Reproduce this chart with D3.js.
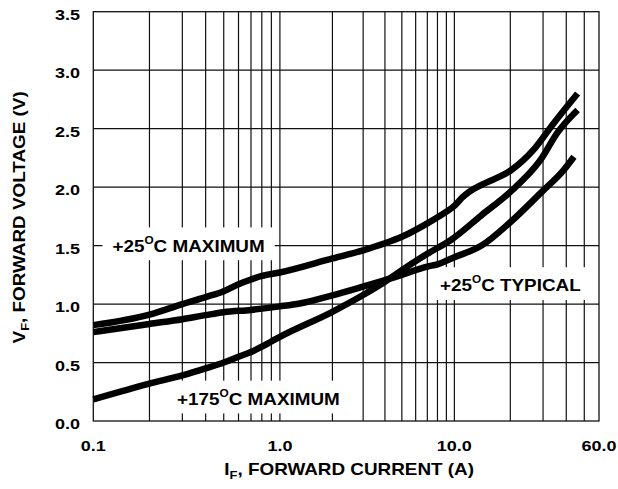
<!DOCTYPE html>
<html>
<head>
<meta charset="utf-8">
<script src="https://cdn.jsdelivr.net/npm/d3@7/dist/d3.min.js"></script>
<style>
  body { margin: 0; background: #fff; }
  text { font-family: "Liberation Sans", Arial, sans-serif; font-weight: bold; fill: #000; }
</style>
</head>
<body>
<div id="chart"></div>
<script>
// forward voltage vs forward current
const max25Current = [0.1, 0.2, 0.3, 0.4, 0.5, 0.6, 0.7, 0.8, 1, 2, 3, 4, 5, 7, 9, 10, 11, 12, 14, 20, 27, 34, 46];
const max25Voltage = [0.82, 0.91, 1.0, 1.06, 1.11, 1.17, 1.21, 1.24, 1.27, 1.39, 1.46, 1.52, 1.575, 1.69, 1.79, 1.84, 1.91, 1.96, 2.02, 2.14, 2.33, 2.54, 2.80];

const typ25Current = [0.1, 0.2, 0.3, 0.4, 0.5, 0.7, 1, 1.3, 2, 3, 4, 5, 6, 7, 8, 9, 10, 14, 20, 30, 38, 44];
const typ25Voltage = [0.76, 0.83, 0.87, 0.905, 0.93, 0.95, 0.98, 1.005, 1.075, 1.15, 1.205, 1.25, 1.29, 1.32, 1.34, 1.37, 1.40, 1.50, 1.70, 1.97, 2.13, 2.26];

const max175Current = [0.1, 0.2, 0.3, 0.4, 0.5, 0.6, 0.7, 0.8, 0.9, 1, 2, 3, 4, 5, 7, 9.6, 14, 20, 29, 36, 46];
const max175Voltage = [0.185, 0.32, 0.39, 0.45, 0.50, 0.55, 0.59, 0.635, 0.68, 0.72, 0.934, 1.077, 1.19, 1.29, 1.43, 1.55, 1.76, 1.96, 2.23, 2.47, 2.66];

// curve labels (anchor in data units)
const labelTexts = ["+25°C MAXIMUM", "+25°C TYPICAL", "+175°C MAXIMUM"];
const labelCurrent = [0.324, 20, 0.767];
const labelVoltage = [1.5, 1.16, 0.19];

// axes
const xTickValues = [0.1, 1, 10, 60];
const xGridValues = [0.2, 0.3, 0.4, 0.5, 0.6, 0.7, 0.8, 0.9, 1, 2, 3, 4, 5, 6, 7, 8, 9, 10, 20, 30, 40, 50];
const yTickValues = [0, 0.5, 1.0, 1.5, 2.0, 2.5, 3.0, 3.5];

class forwardViz {
  constructor(parentElement) {
    this.parentElement = parentElement
    this.series = [
      max25Current.map((c, i) => ({current: c, voltage: max25Voltage[i]})),
      typ25Current.map((c, i) => ({current: c, voltage: typ25Voltage[i]})),
      max175Current.map((c, i) => ({current: c, voltage: max175Voltage[i]}))
    ]
    this.labels = labelTexts.map((t, i) => ({text: t, current: labelCurrent[i], voltage: labelVoltage[i]}))
    this.initVis()
  }

  initVis() {
    let vis = this;

    vis.fullWidth = 618;
    vis.fullHeight = 489;
    vis.margin = {top: 11.7, right: 19, bottom: 68, left: 93.3};
    vis.width = vis.fullWidth - vis.margin.left - vis.margin.right;
    vis.height = vis.fullHeight - vis.margin.top - vis.margin.bottom;

    // the printed glyphs are wider than Arial, stretch them a little
    vis.stretch = 1.18;

    vis.svg = d3.select("#" + vis.parentElement).append("svg")
        .attr("width", vis.fullWidth)
        .attr("height", vis.fullHeight)

    vis.plot = vis.svg.append("g")
        .attr("transform", `translate(${vis.margin.left},${vis.margin.top})`)

    // decades in the printed grid are not quite equal, so piecewise log
    vis.xScale = d3.scaleLog()
        .domain([0.1, 1, 10, 60])
        .range([0, vis.width * 0.369, vis.width * 0.714, vis.width])

    vis.yScale = d3.scaleLinear()
        .domain([0, 3.5])
        .range([vis.height, 0])

    vis.line = d3.line()
        .curve(d3.curveMonotoneX)
        .x(d => vis.xScale(d.current))
        .y(d => vis.yScale(d.voltage))

    vis.updateVis()
  }

  updateVis() {
    let vis = this;

    // GRID _________________________
    vis.plot.append("g").selectAll("line")
        .data(xGridValues)
        .join("line")
        .attr("x1", d => vis.xScale(d)).attr("x2", d => vis.xScale(d))
        .attr("y1", 0).attr("y2", vis.height)
        .attr("stroke", "#111").attr("stroke-width", 1.2)

    vis.plot.append("g").selectAll("line")
        .data(yTickValues.slice(1, -1))
        .join("line")
        .attr("x1", 0).attr("x2", vis.width)
        .attr("y1", d => vis.yScale(d)).attr("y2", d => vis.yScale(d))
        .attr("stroke", "#111").attr("stroke-width", 1.2)

    vis.plot.append("rect")
        .attr("width", vis.width).attr("height", vis.height)
        .attr("fill", "none").attr("stroke", "#111").attr("stroke-width", 1.3)

    // TICK LABELS _________________________
    vis.svg.append("g").selectAll("g")
        .data(yTickValues)
        .join("g")
        .attr("transform", d => `translate(80,${vis.margin.top + vis.yScale(d) + 8.3}) scale(1.2,1)`)
        .append("text")
        .attr("text-anchor", "end")
        .attr("font-size", 15)
        .text(d => d3.format(".1f")(d))

    vis.svg.append("g").selectAll("g")
        .data(xTickValues)
        .join("g")
        .attr("transform", d => `translate(${vis.margin.left + vis.xScale(d)},${vis.margin.top + vis.height + 29.7}) scale(1.2,1)`)
        .append("text")
        .attr("text-anchor", "middle")
        .attr("font-size", 15)
        .text(d => d3.format(".1f")(d))

    // AXIS TITLES _________________________
    let xTitle = vis.svg.append("g")
        .attr("transform", `translate(${vis.margin.left + vis.width / 2 + 3},475) scale(${vis.stretch},1)`)
        .append("text")
        .attr("text-anchor", "middle")
        .attr("font-size", 16)
    xTitle.append("tspan").text("I")
    xTitle.append("tspan").attr("font-size", 11).attr("dy", 4).text("F")
    xTitle.append("tspan").attr("dy", -4).text(", FORWARD CURRENT (A)")

    let yTitle = vis.svg.append("g")
        .attr("transform", `translate(25,${vis.margin.top + vis.height / 2 + 1}) rotate(-90) scale(${vis.stretch},1)`)
        .append("text")
        .attr("text-anchor", "middle")
        .attr("font-size", 16)
    yTitle.append("tspan").text("V")
    yTitle.append("tspan").attr("font-size", 11).attr("dy", 4).text("F")
    yTitle.append("tspan").attr("dy", -4).text(", FORWARD VOLTAGE (V)")

    // CURVE LABELS (white box knocks out the grid) _________________________
    vis.labelGroups = vis.plot.selectAll(".curve-label")
        .data(vis.labels)
        .join("g")
        .attr("class", "curve-label")
        .attr("transform", d => `translate(${vis.xScale(d.current)},${vis.yScale(d.voltage)}) scale(${vis.stretch},1)`)

    vis.labelGroups.append("rect").attr("fill", "#fff")

    vis.labelGroups.append("text")
        .attr("text-anchor", "middle")
        .attr("font-size", 16)
        .attr("dy", 6)
        .each(function(d) {
          let parts = d.text.split("°")
          let t = d3.select(this)
          t.append("tspan").text(parts[0])
          t.append("tspan").attr("font-size", 10).attr("dy", -8).text("O")
          t.append("tspan").attr("dy", 8).text(parts[1])
        })

    vis.labelGroups.each(function() {
      let g = d3.select(this)
      let box = g.select("text").node().getBBox()
      let padX = 10 / vis.stretch
      g.select("rect")
          .attr("x", box.x - padX)
          .attr("y", box.y - 7)
          .attr("width", box.width + 2 * padX)
          .attr("height", box.height + 12)
    })

    // CURVES _________________________
    vis.plot.selectAll(".curve")
        .data(vis.series)
        .join("path")
        .attr("class", "curve")
        .attr("d", d => vis.line(d))
        .attr("fill", "none")
        .attr("stroke", "#000")
        .attr("stroke-width", 6.5)
  }
}

new forwardViz("chart")
</script>
</body>
</html>
